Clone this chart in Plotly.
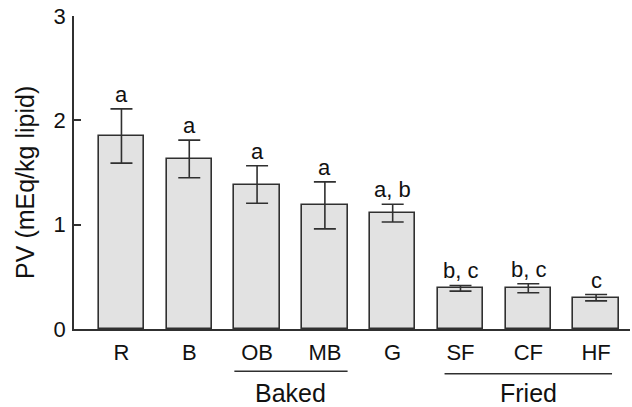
import plotly.graph_objects as go

categories = ["R", "B", "OB", "MB", "G", "SF", "CF", "HF"]
pv_values = [1.85, 1.63, 1.385, 1.185, 1.11, 0.39, 0.39, 0.30]
pv_errors = [0.26, 0.18, 0.18, 0.225, 0.085, 0.027, 0.043, 0.03]
sig_letters = ["a", "a", "a", "a", "a, b", "b, c", "b, c", "c"]
group_names = ["Baked", "Fried"]
group_members = [["OB", "MB"], ["SF", "CF", "HF"]]
y_ticks = [0, 1, 2, 3]
y_title = "PV (mEq/kg lipid)"

FONT = "Liberation Sans, Arial, sans-serif"
DARK = "#303030"
BAR_W = 0.67

xs = list(range(len(categories)))

fig = go.Figure()
fig.add_trace(go.Bar(
    x=xs, y=pv_values, width=BAR_W,
    marker=dict(color="#e2e2e2", line=dict(color=DARK, width=1.6)),
    error_y=dict(type="data", array=pv_errors, visible=True,
                 color=DARK, thickness=1.6, width=11),
    showlegend=False,
))

# significance letters above error bars
for i, (v, e, t) in enumerate(zip(pv_values, pv_errors, sig_letters)):
    fig.add_annotation(x=xs[i], y=v + e, text=t, showarrow=False,
                       yanchor="bottom", yshift=0,
                       font=dict(family=FONT, size=22, color="#111"))

# group underlines and labels
line_y = {"Baked": -0.135, "Fried": -0.143}
inset = {"Baked": 0.0, "Fried": 0.1}
for name, members in zip(group_names, group_members):
    idx = [categories.index(m) for m in members]
    x0 = min(idx) - BAR_W / 2 + inset[name]
    x1 = max(idx) + BAR_W / 2 - inset[name]
    fig.add_shape(type="line", xref="x", yref="paper", x0=x0, x1=x1,
                  y0=line_y[name], y1=line_y[name],
                  line=dict(color=DARK, width=1.6))
    fig.add_annotation(x=(min(idx) + max(idx)) / 2, xref="x", yref="paper",
                       y=-0.205, yanchor="middle", text=name, showarrow=False,
                       font=dict(family=FONT, size=25, color="#111"))

# y-axis title (placed as annotation to match offset)
fig.add_annotation(text=y_title, xref="paper", yref="paper",
                   x=-0.088, y=0.467, xanchor="center", yanchor="middle",
                   textangle=-90, showarrow=False,
                   font=dict(family=FONT, size=25, color="#111"))

fig.update_layout(
    width=632, height=407,
    margin=dict(l=74, r=2, t=16, b=78),
    plot_bgcolor="white", paper_bgcolor="white",
    font=dict(family=FONT, size=22, color="#111"),
    bargap=0,
)
fig.update_xaxes(
    range=[-0.70, 7.5], tickmode="array", tickvals=xs, ticktext=categories,
    showline=True, linecolor=DARK, linewidth=1.6, ticks="",
    showgrid=False, zeroline=False, ticklabelstandoff=3,
    tickfont=dict(family=FONT, size=22, color="#111"),
)
fig.update_yaxes(
    range=[0, 3], tickmode="array", tickvals=y_ticks,
    showline=True, linecolor=DARK, linewidth=1.6,
    ticks="inside", ticklen=7, tickcolor=DARK, tickwidth=1.6,
    showgrid=False, zeroline=False, ticklabelstandoff=2,
    tickfont=dict(family=FONT, size=22, color="#111"),
)

fig.write_html("out.html", config={"displayModeBar": False},
               post_script="document.body.style.margin='0';")
